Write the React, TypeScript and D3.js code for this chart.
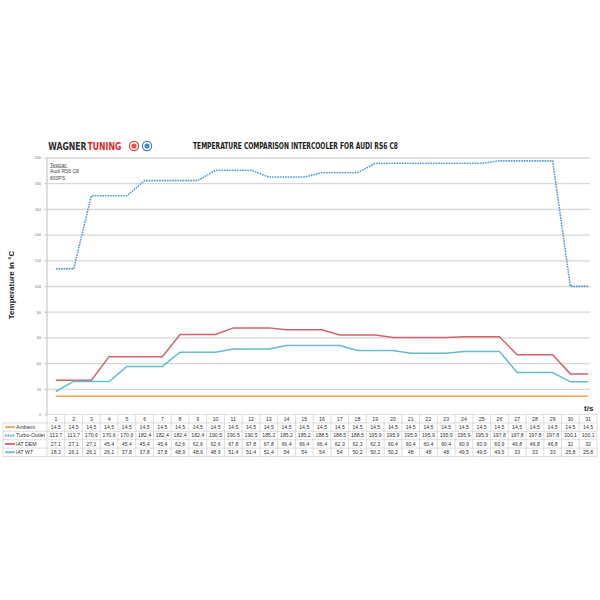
import React from "react";
import * as d3 from "d3";

const timeSteps = d3.range(1, 32);
const ambient = Array(31).fill(14.5);
const turboOutlet = [113.7, 113.7, 170.6, 170.6, 170.6, 182.4, 182.4, 182.4, 182.4, 190.5, 190.5, 190.5, 185.2, 185.2, 185.2, 188.5, 188.5, 188.5, 195.9, 195.9, 195.9, 195.9, 195.9, 195.9, 195.9, 197.8, 197.8, 197.8, 197.8, 100.1, 100.1];
const iatDem = [27.1, 27.1, 27.1, 45.4, 45.4, 45.4, 45.4, 62.6, 62.6, 62.6, 67.8, 67.8, 67.8, 66.4, 66.4, 66.4, 62.3, 62.3, 62.3, 60.4, 60.4, 60.4, 60.4, 60.9, 60.9, 60.9, 46.8, 46.8, 46.8, 32, 32];
const iatWt = [18.3, 26.1, 26.1, 26.1, 37.8, 37.8, 37.8, 48.9, 48.9, 48.9, 51.4, 51.4, 51.4, 54, 54, 54, 54, 50.2, 50.2, 50.2, 48, 48, 48, 49.5, 49.5, 49.5, 33, 33, 33, 25.8, 25.8];
const yTicks = [0, 20, 40, 60, 80, 100, 120, 140, 160, 180, 200];

const series = [
  { name: "Ambient", values: ambient, color: "#f5a05a", dash: "" },
  { name: "Turbo-Outlet", values: turboOutlet, color: "#4a9ad6", dash: "1.6,1" },
  { name: "IAT DEM", values: iatDem, color: "#d4606c", dash: "" },
  { name: "IAT WT", values: iatWt, color: "#62bccb", dash: "" },
];

const fmt = (v: number) => String(v).replace(".", ",");

export default function App() {
  const left = 47, right = 597;
  const x = d3.scaleBand<number>().domain(timeSteps).range([left, right]).padding(0);
  const cx = (t: number) => (x(t) as number) + x.bandwidth() / 2;
  const y = d3.scaleLinear().domain([0, 200]).range([415, 158]);
  const line = d3.line<number>().x((_, i) => cx(timeSteps[i])).y((v) => y(v));

  const tableTop = 414.5;
  const rowH = 8.4;
  const legLeft = 3;
  const gridColor = "#d6d6d6";
  const tableColor = "#cfcfcf";
  const font = "'Liberation Sans', Arial, sans-serif";
  const condensed = "'DejaVu Sans Condensed', sans-serif";

  return (
    <svg width={600} height={600} style={{ position: "absolute", left: 0, top: 0, background: "#fff" }}>
      <rect width={600} height={600} fill="#fff" />
      {/* header */}
      <g transform="translate(87,149.5) scale(0.82,1)" fontFamily={condensed} fontWeight="bold" fontSize={10.5}>
        <text x={-0.6} textAnchor="end" fill="#2b2b2b">WAGNER</text>
        <text x={0.6} fill="#d32a2a">TUNING</text>
      </g>
      <circle cx={134} cy={146} r={4.6} fill="#fff" stroke="#d44" strokeWidth={1.2} />
      <circle cx={134} cy={146} r={2.6} fill="#e05555" />
      <circle cx={147} cy={146} r={4.6} fill="#fff" stroke="#3d7fd0" strokeWidth={1.2} />
      <circle cx={147} cy={146} r={2.6} fill="#4a88d8" />
      <text x={193} y={149} fontFamily={condensed} fontWeight="bold" fontSize={9} fill="#1a1a1a" textLength={205} lengthAdjust="spacingAndGlyphs">
        TEMPERATURE COMPARISON INTERCOOLER FOR AUDI RS6 C8
      </text>

      {/* gridlines */}
      {yTicks.filter((t) => t > 0).map((t) => (
        <line key={t} x1={left} x2={590} y1={y(t)} y2={y(t)} stroke={gridColor} strokeWidth={1.3} />
      ))}
      <line x1={left} x2={left} y1={y(200)} y2={y(0)} stroke="#bdbdbd" strokeWidth={1} />
      {yTicks.map((t) => (
        <g key={t}>
          <line x1={44} x2={left} y1={y(t)} y2={y(t)} stroke="#bdbdbd" strokeWidth={0.8} />
          <text x={41} y={y(t) + 1.3} fontSize={3.8} fill="#777" textAnchor="end" fontFamily={font}>{t}</text>
        </g>
      ))}

      {/* testcar */}
      <text x={50} y={166.5} fontSize={5} fill="#444" fontFamily={font} textDecoration="underline">Testcar:</text>
      <text x={50} y={173} fontSize={5} fill="#444" fontFamily={font}>Audi RS6 C8</text>
      <text x={50} y={180} fontSize={5} fill="#444" fontFamily={font}>800PS</text>

      {/* y label */}
      <text transform="translate(14,285) rotate(-90)" textAnchor="middle" fontFamily={font} fontWeight="bold" fontSize={8} fill="#222">
        Temperature in °C
      </text>

      {/* lines */}
      {series.map((s) => (
        <path key={s.name} d={line(s.values) || ""} fill="none" stroke={s.color} strokeWidth={s.dash ? 1.6 : 1.5} strokeDasharray={s.dash || undefined} />
      ))}

      {/* t/s */}
      <text x={584} y={411} fontFamily={font} fontWeight="bold" fontSize={8} fill="#222">t/s</text>

      {/* table */}
      <g fontFamily={font} fontSize={5.2} fill="#333">
        <line x1={left} x2={right} y1={tableTop} y2={tableTop} stroke={tableColor} strokeWidth={0.7} />
        {timeSteps.map((t) => (
          <text key={t} x={cx(t)} y={tableTop + rowH / 2 + 1.8} textAnchor="middle">{t}</text>
        ))}
        <line x1={legLeft} x2={right} y1={tableTop + rowH} y2={tableTop + rowH} stroke={tableColor} strokeWidth={0.7} />
        {series.map((s, i) => {
          const yy = tableTop + rowH * (i + 1);
          return (
            <g key={s.name}>
              <line x1={legLeft} x2={right} y1={yy + rowH} y2={yy + rowH} stroke={tableColor} strokeWidth={0.7} />
              <line x1={5} x2={15} y1={yy + rowH / 2} y2={yy + rowH / 2} stroke={s.color} strokeWidth={1.8} strokeDasharray={s.dash || undefined} />
              <text x={16} y={yy + rowH / 2 + 1.8}>{s.name}</text>
              {s.values.map((v, j) => (
                <text key={j} x={cx(timeSteps[j])} y={yy + rowH / 2 + 1.8} textAnchor="middle">{fmt(v)}</text>
              ))}
            </g>
          );
        })}
        <line x1={legLeft} x2={legLeft} y1={tableTop + rowH} y2={tableTop + rowH * 5} stroke={tableColor} strokeWidth={0.7} />
        {[...timeSteps, 32].map((t) => {
          const xx = left + (t - 1) * x.bandwidth();
          return <line key={t} x1={xx} x2={xx} y1={tableTop} y2={tableTop + rowH * 5} stroke={tableColor} strokeWidth={0.7} />;
        })}
      </g>
    </svg>
  );
}
